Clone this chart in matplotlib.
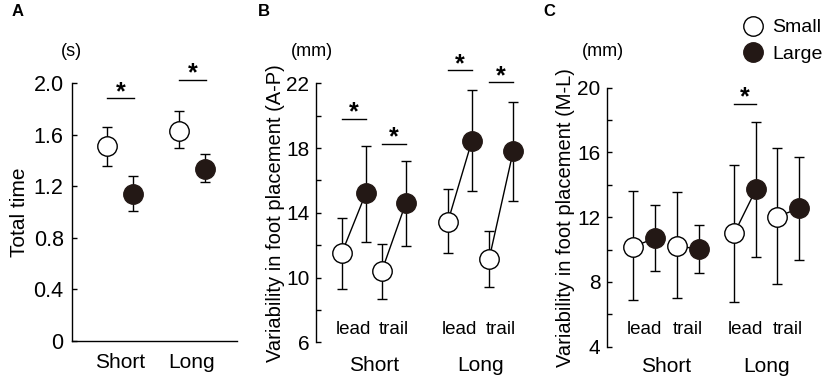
import numpy as np
import matplotlib.pyplot as plt

plt.rcParams['font.family'] = ['Liberation Sans', 'DejaVu Sans']

# ---- data ----
# Panel A: total time (s)
a_groups = ['Short', 'Long']
a_small = [1.51, 1.63]
a_small_hi = [1.66, 1.78]
a_small_lo = [1.36, 1.50]
a_large = [1.14, 1.33]
a_large_hi = [1.28, 1.45]
a_large_lo = [1.01, 1.23]
a_sig = [1.88, 2.025]

# Panel B: A-P variability (mm), order: Short lead, Short trail, Long lead, Long trail
b_small = [11.5, 10.4, 13.45, 11.15]
b_small_hi = [13.7, 12.1, 15.45, 12.85]
b_small_lo = [9.27, 8.7, 11.5, 9.4]
b_large = [15.2, 14.6, 18.45, 17.8]
b_large_hi = [18.12, 17.2, 21.6, 20.86]
b_large_lo = [12.2, 11.95, 15.35, 14.7]
b_sig = [19.8, 18.25, 22.8, 22.06]

# Panel C: M-L variability (mm)
c_small = [10.18, 10.2, 11.0, 12.03]
c_small_hi = [13.6, 13.55, 15.2, 16.3]
c_small_lo = [6.88, 7.03, 6.76, 7.9]
c_large = [10.71, 10.05, 13.74, 12.55]
c_large_hi = [12.75, 11.5, 17.88, 15.7]
c_large_lo = [8.7, 8.55, 9.52, 9.35]
c_sig = [None, None, 19.0, None]

sub_labels = ['lead', 'trail', 'lead', 'trail']
group_labels = ['Short', 'Long']

dark = '#231815'
W, H = 829, 381


def px_axes(left, top, right, bottom):
    return fig.add_axes([left / W, 1 - bottom / H, (right - left) / W, (bottom - top) / H])


def style(ax, tick_size, pad):
    for s in ['top', 'right']:
        ax.spines[s].set_visible(False)
    ax.spines['left'].set_linewidth(1.0)
    ax.spines['bottom'].set_linewidth(1.0)
    ax.tick_params(axis='y', direction='in', length=3.5, width=1.0, labelsize=tick_size, pad=pad)
    ax.tick_params(axis='y', which='minor', direction='in', length=3.5, width=1.0)


def draw_pair(ax, xs, xl, s, shi, slo, l, lhi, llo, connect):
    if connect:
        ax.plot([xs, xl], [s, l], color='black', lw=1.0, zorder=1)
    ax.errorbar([xs], [s], yerr=[[s - slo], [shi - s]], fmt='none', ecolor='black',
                elinewidth=1.0, capsize=3.5, capthick=1.0, zorder=2)
    ax.errorbar([xl], [l], yerr=[[l - llo], [lhi - l]], fmt='none', ecolor='black',
                elinewidth=1.0, capsize=3.5, capthick=1.0, zorder=2)
    hs, = ax.plot([xs], [s], 'o', ms=14, mfc='white', mec='black', mew=1.0, zorder=3)
    hl, = ax.plot([xl], [l], 'o', ms=14, mfc=dark, mec=dark, mew=1.0, zorder=3)
    return hs, hl


def sig_bar(ax, x0, x1, y):
    ax.plot([x0, x1], [y, y], color='black', lw=1.0, clip_on=False)
    ax.annotate('*', xy=((x0 + x1) / 2, y), xytext=(0, -4), textcoords='offset points',
                ha='center', va='bottom', fontsize=18, fontweight='bold', annotation_clip=False)


fig = plt.figure(figsize=(W / 100, H / 100), dpi=100)

# ---- Panel A ----
axA = px_axes(72, 83, 237, 341)
style(axA, 15.5, 6)
a_pos = np.array([1.0, 2.0])
da = 0.175
for i in range(2):
    draw_pair(axA, a_pos[i] - da, a_pos[i] + da, a_small[i], a_small_hi[i], a_small_lo[i],
              a_large[i], a_large_hi[i], a_large_lo[i], connect=False)
    sig_bar(axA, a_pos[i] - da, a_pos[i] + da + 0.02, a_sig[i])
axA.set_xlim(0.333, 2.625)
axA.set_ylim(0, 2.0)
axA.set_yticks([0, 0.4, 0.8, 1.2, 1.6, 2.0])
axA.set_yticklabels(['0', '0.4', '0.8', '1.2', '1.6', '2.0'])
axA.set_xticks(a_pos)
axA.set_xticklabels(a_groups, fontsize=15)
axA.tick_params(axis='x', length=0, pad=9)
axA.set_ylabel('Total time', fontsize=15)
axA.yaxis.set_label_coords(-0.262, 0.5)
fig.text(71 / W, 1 - 52 / H, '(s)', ha='center', va='center', fontsize=13)
fig.text(12 / W, 1 - 12 / H, 'A', ha='left', va='center', fontsize=12, fontweight='bold')


def panel(ax, pos, d, sm, smh, sml, lg, lgh, lgl, sig, ylo, yhi, lab_y, grp_y):
    handles = None
    for i in range(4):
        handles = draw_pair(ax, pos[i] - d, pos[i] + d, sm[i], smh[i], sml[i],
                            lg[i], lgh[i], lgl[i], connect=True)
        if sig[i] is not None:
            sig_bar(ax, pos[i] - d, pos[i] + d, sig[i])
        ax.text(pos[i], lab_y, sub_labels[i], ha='center', va='center', fontsize=13.5)
    for g in range(2):
        ax.text((pos[2 * g] + pos[2 * g + 1]) / 2, grp_y, group_labels[g], ha='center',
                va='center', fontsize=15, transform=ax.get_xaxis_transform())
    ax.spines['bottom'].set_visible(False)
    ax.set_xticks([])
    ax.set_ylim(ylo, yhi)
    ax.set_yticks(np.arange(ylo, yhi + 1, 4))
    ax.set_yticks(np.arange(ylo + 2, yhi, 4), minor=True)
    return handles


# ---- Panel B ----
axB = px_axes(315.7, 83.3, 524, 342.3)
style(axB, 15, 4.5)
b_pos = [1.0, 2.0, 3.65, 4.68]
panel(axB, b_pos, 0.3, b_small, b_small_hi, b_small_lo, b_large, b_large_hi, b_large_lo,
      b_sig, 6, 22, 6.8, -0.09)
axB.set_xlim(0.05, 5.25)
axB.set_ylabel('Variability in foot placement (A-P)', fontsize=14.5)
axB.yaxis.set_label_coords(-0.148, 0.5)
fig.text(312 / W, 1 - 52 / H, '(mm)', ha='center', va='center', fontsize=13)
fig.text(258 / W, 1 - 12 / H, 'B', ha='left', va='center', fontsize=12, fontweight='bold')

# ---- Panel C ----
axC = px_axes(606.7, 87.7, 815, 346.7)
style(axC, 15, 4.5)
c_pos = [1.0, 2.0, 3.3, 4.28]
hs, hl = panel(axC, c_pos, 0.25, c_small, c_small_hi, c_small_lo, c_large, c_large_hi,
               c_large_lo, c_sig, 4, 20, 5.09, -0.075)
axC.set_xlim(0.145, 4.89)
axC.set_ylabel('Variability in foot placement (M-L)', fontsize=14.5)
axC.yaxis.set_label_coords(-0.152, 0.5)
fig.text(603 / W, 1 - 52 / H, '(mm)', ha='center', va='center', fontsize=13)
fig.text(543 / W, 1 - 12 / H, 'C', ha='left', va='center', fontsize=12, fontweight='bold')

fig.legend([hs, hl], ['Small', 'Large'], loc='upper left', bbox_to_anchor=(736 / W, 1 - 9 / H),
           frameon=False, fontsize=14, handlelength=0.8, handletextpad=0.55,
           borderpad=0, labelspacing=0.45)

fig.savefig('out.png', dpi=100)
